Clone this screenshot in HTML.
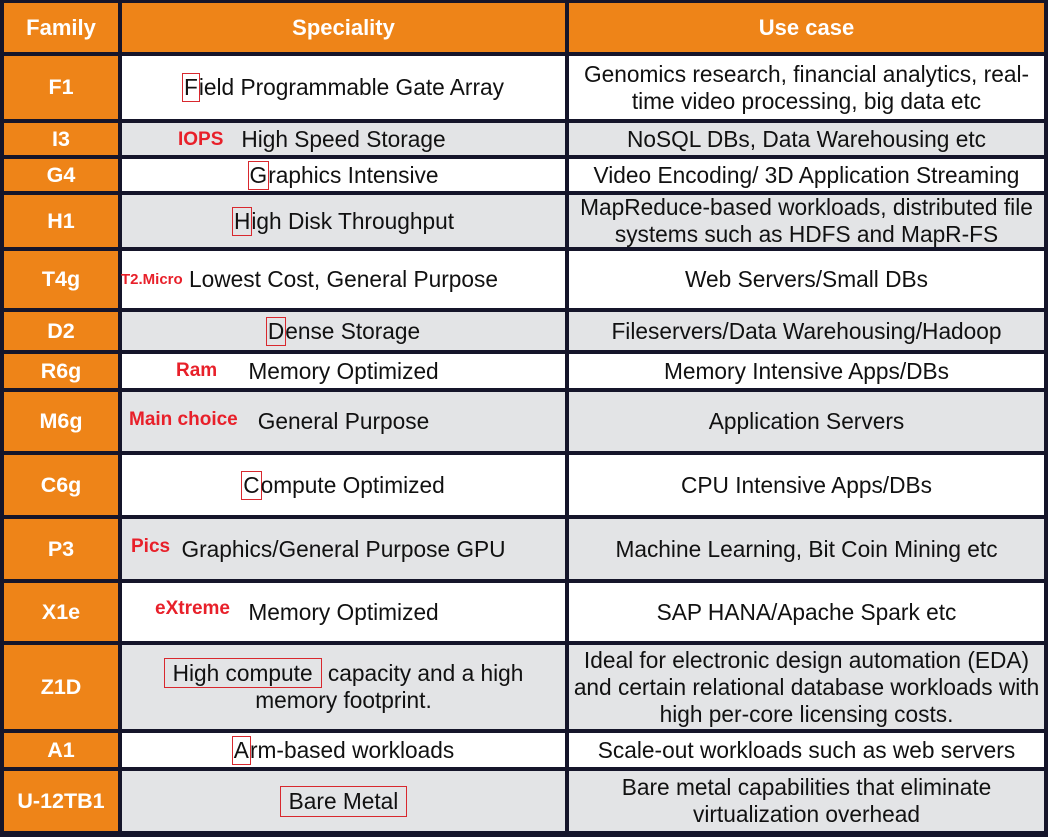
<!DOCTYPE html>
<html><head><meta charset="utf-8"><style>
body{margin:0;width:1048px;height:837px;background:#15152a;position:relative;overflow:hidden;font-family:"Liberation Sans",Arial,sans-serif}
.c{position:absolute;display:flex;align-items:center;justify-content:center;text-align:center;color:#111;font-size:22.7px;line-height:27px}
.f{background:#ee8418;color:#fff;font-weight:bold;font-size:21.5px}
.h{background:#ee8418;color:#fff;font-weight:bold;font-size:22px}
.w{background:#fff}.g{background:#e3e4e6}
.r{position:absolute;color:#e8202a;font-weight:bold;font-size:19px;font-family:"Liberation Sans",sans-serif;white-space:nowrap;line-height:20px}
.b{outline:1px solid #d8282e;outline-offset:0px;padding:0 1px}
.B{border:1px solid #d8282e;padding:1px 8px}
</style></head><body>
<div id="t"></div>
<script>
var rows=[
["h",3,52,"Family","Speciality","Use case"],
["w",56,119,"F1","<span class=b>F</span>ield Programmable Gate Array","Genomics research, financial analytics, real-<br>time video processing, big data etc"],
["g",123,155,"I3","High Speed Storage","NoSQL DBs, Data Warehousing etc"],
["w",159,191,"G4","<span class=b>G</span>raphics Intensive","Video Encoding/ 3D Application Streaming"],
["g",195,247,"H1","<span class=b>H</span>igh Disk Throughput","MapReduce-based workloads, distributed file<br>systems such as HDFS and MapR-FS"],
["w",251,308,"T4g","Lowest Cost, General Purpose","Web Servers/Small DBs"],
["g",312,350,"D2","<span class=b>D</span>ense Storage","Fileservers/Data Warehousing/Hadoop"],
["w",354,388,"R6g","Memory Optimized","Memory Intensive Apps/DBs"],
["g",392,451,"M6g","General Purpose","Application Servers"],
["w",455,515,"C6g","<span class=b>C</span>ompute Optimized","CPU Intensive Apps/DBs"],
["g",519,579,"P3","Graphics/General Purpose GPU","Machine Learning, Bit Coin Mining etc"],
["w",583,641,"X1e","Memory Optimized","SAP HANA/Apache Spark etc"],
["g",645,729,"Z1D","<div><span class=B>High compute</span> capacity and a high<br>memory footprint.</div>","Ideal for electronic design automation (EDA)<br>and certain relational database workloads with<br>high per-core licensing costs."],
["w",733,767,"A1","<span class=b>A</span>rm-based workloads","Scale-out workloads such as web servers"],
["g",771,831,"U-12TB1","<span class=B>Bare Metal</span>","Bare metal capabilities that eliminate<br>virtualization overhead"]];
var s="";
rows.forEach(function(r){
 var t=r[1],hh=r[2]-r[1];
 var fc=r[0]=="h"?"h":"f", bc=r[0]=="h"?"h":r[0];
 s+='<div class="c '+fc+'" style="left:4px;top:'+t+'px;width:114px;height:'+hh+'px">'+r[3]+'</div>';
 s+='<div class="c '+bc+'" style="left:122px;top:'+t+'px;width:443px;height:'+hh+'px">'+r[4]+'</div>';
 s+='<div class="c '+bc+'" style="left:569px;top:'+t+'px;width:475px;height:'+hh+'px">'+r[5]+'</div>';
});
document.getElementById("t").innerHTML=s;
</script>
<div class="r" style="left:178px;top:130px">IOPS</div>
<div class="r" style="left:121px;top:270px;font-size:15px">T2.Micro</div>
<div class="r" style="left:176px;top:361px">Ram</div>
<div class="r" style="left:129px;top:410px">Main choice</div>
<div class="r" style="left:131px;top:537px">Pics</div>
<div class="r" style="left:155px;top:599px">eXtreme</div>
</body></html>
